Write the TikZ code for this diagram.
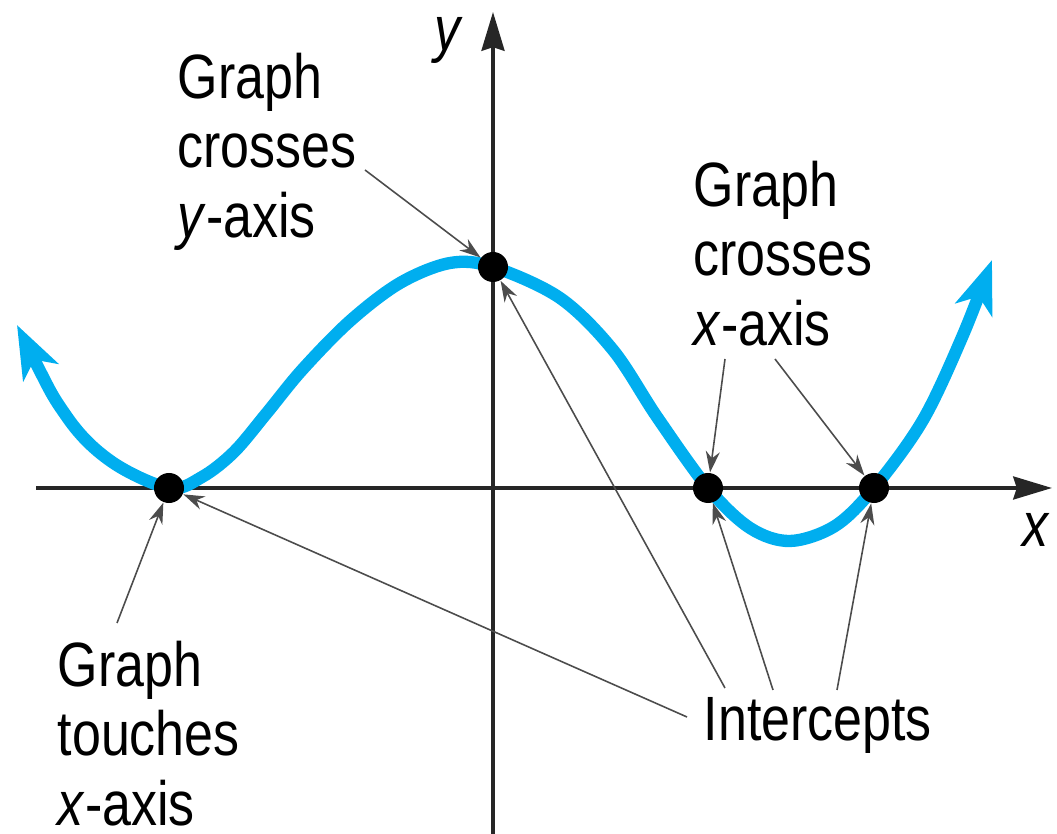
\documentclass[tikz,border=0pt]{standalone}
\usepackage{fontspec}
\setmainfont{Liberation Sans}[FakeStretch=0.83]
\usetikzlibrary{arrows.meta}
\definecolor{curvecyan}{RGB}{0,174,239}
\tikzset{
  dot/.style={circle,fill=black,inner sep=0pt,minimum size=0.3cm},
  lbl/.style={font=\fontsize{17.8}{19.8}\selectfont,align=left,inner sep=0pt,anchor=north west},
  axlbl/.style={font=\fontsize{17.8}{19.8}\selectfont\itshape,inner sep=0pt},
  axis/.style={draw=black!85,line width=1.1pt,-{Stealth[length=11pt,width=6.5pt,inset=1pt]}},
  pointer/.style={draw=black!70,line width=0.45pt,-{Stealth[length=6pt,width=4pt]}},
  graph/.style={curvecyan,line width=3.5pt,{Stealth[length=15pt,width=11pt,inset=4pt]}-{Stealth[length=15pt,width=11pt,inset=4pt]}}
}
\begin{document}
\begin{tikzpicture}[x=0.01cm,y=-0.01cm]
\useasboundingbox (0,0) rectangle (1057,834);

% 坐标轴
\coordinate (xl) at (36,488);
\coordinate (xr) at (1052,488);
\coordinate (yb) at (493,834);
\coordinate (yt) at (493,12);
\draw[axis] (xl)--(xr);
\draw[axis] (yb)--(yt);
\node[axlbl] (ylab) at (447,40) {y};
\node[axlbl] (xlab) at (1035,530) {x};

% 曲线
\draw[graph] plot[smooth,tension=0.55] coordinates {
  (17,325) (67,417) (112,462) (169,488) (202,477) (234,452) (266,414)
  (302,370) (350,321) (400,283) (450,263) (493,267) (560,298) (613,350)
  (657,417) (708,488) (750,528) (790,541) (835,526) (874,488) (923,420)
  (963,335) (992,260)};

% 交点
\node[dot] (T) at (169,488) {};
\node[dot] (Y) at (493,267) {};
\node[dot] (X1) at (708,488) {};
\node[dot] (X2) at (874,488) {};

% 文字
\node[lbl] (ly) at (177,52) {Graph\\crosses\\\textit{y}-axis};
\node[lbl] (lx) at (693,160) {Graph\\crosses\\\textit{x}-axis};
\node[lbl] (lt) at (57,640) {Graph\\touches\\\textit{x}-axis};
\node[lbl] (icpt) at (703,697) {Intercepts};

% ========== 箭头 ==========
\coordinate (p1) at (365,170);
\coordinate (p2) at (725,359);
\coordinate (p3) at (775,359);
\coordinate (p4) at (117,623);
\coordinate (q1) at (687,717);
\coordinate (q2) at (725,688);
\coordinate (q3) at (773,690);
\coordinate (q4) at (837,690);

\draw[pointer] (p1)--(Y);
\draw[pointer] (p2)--(X1);
\draw[pointer] (p3)--(X2);
\draw[pointer] (p4)--(T);

\draw[pointer] (q1)--(T);
\draw[pointer] (q2)--(Y);
\draw[pointer] (q3)--(X1);
\draw[pointer] (q4)--(X2);
\end{tikzpicture}
\end{document}
